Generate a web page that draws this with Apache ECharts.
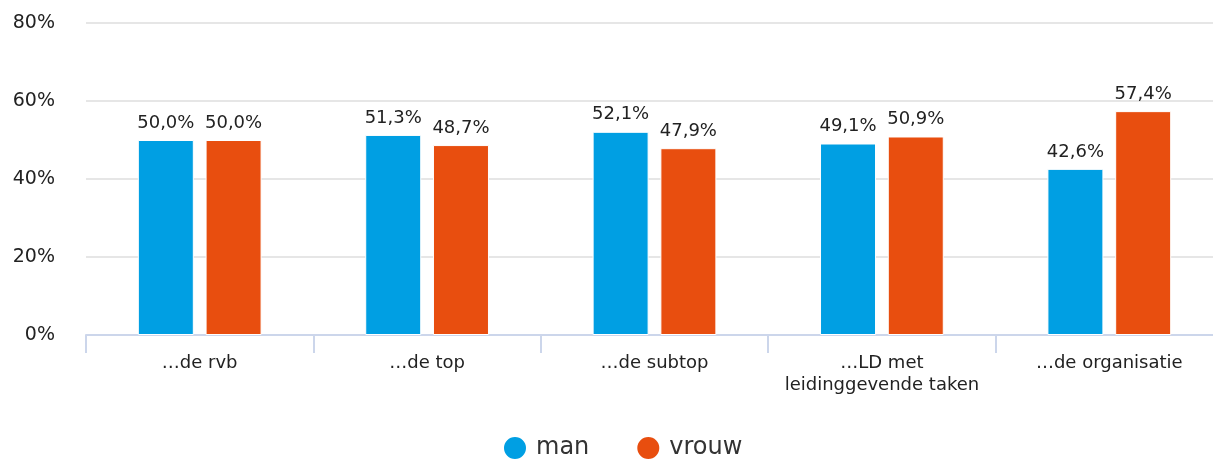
<!DOCTYPE html>
<html lang="nl">
<head>
  <meta charset="UTF-8">
  <title>man / vrouw</title>
  <script src="https://cdn.jsdelivr.net/npm/echarts@6/dist/echarts.min.js"></script>
  <style>
    html, body { margin: 0; padding: 0; background: #fff; }
    #main { width: 1213px; height: 460px; }
  </style>
</head>
<body>
<div id="main"></div>
<script type="text/javascript">
  var categories = ['…de rvb', '…de top', '…de subtop', '…LD met\nleidinggevende taken', '…de organisatie'];
  var manValues = [50.0, 51.3, 52.1, 49.1, 42.6];
  var vrouwValues = [50.0, 48.7, 47.9, 50.9, 57.4];

  var myChart = echarts.init(document.getElementById('main'));
  var font = 'Verdana, "DejaVu Sans", sans-serif';

  function pct(p) {
    return p.value.toFixed(1).replace('.', ',') + '%';
  }

  var option = {
    textStyle: { fontFamily: font },
    animation: false,
    legend: {
      top: 430,
      left: 497,
      icon: 'circle',
      itemWidth: 24,
      itemHeight: 24,
      itemGap: 46,
      textStyle: { fontSize: 24, color: '#333', fontFamily: font, padding: [0, 0, 0, 4] },
      data: ['man', 'vrouw']
    },
    grid: { left: 86, top: 23, width: 1137, height: 312, outerBoundsMode: 'none', containLabel: false },
    xAxis: {
      type: 'category',
      data: categories,
      axisLine: { lineStyle: { color: '#ccd6eb', width: 2 } },
      axisTick: { show: true, length: 18, interval: 0, lineStyle: { color: '#ccd6eb', width: 2 } },
      axisLabel: { interval: 0, fontSize: 18, color: '#222', margin: 17, lineHeight: 22, fontFamily: font }
    },
    yAxis: {
      type: 'value',
      min: 0,
      max: 80,
      interval: 20,
      axisLabel: { formatter: '{value}%', fontSize: 19, color: '#222', margin: 31, fontFamily: font },
      splitLine: { lineStyle: { color: '#e6e6e6', width: 2 } },
      axisLine: { show: false },
      axisTick: { show: false }
    },
    series: [
      {
        name: 'man',
        type: 'bar',
        data: manValues,
        barWidth: 56,
        barGap: '21%',
        itemStyle: { color: '#009fe3', borderColor: '#fff', borderWidth: 1 },
        label: { show: true, position: 'top', distance: 8, fontSize: 18, color: '#222', formatter: pct, fontFamily: font }
      },
      {
        name: 'vrouw',
        type: 'bar',
        data: vrouwValues,
        barWidth: 56,
        itemStyle: { color: '#e84e0f', borderColor: '#fff', borderWidth: 1 },
        label: { show: true, position: 'top', distance: 8, fontSize: 18, color: '#222', formatter: pct, fontFamily: font }
      }
    ]
  };

  option && myChart.setOption(option);
</script>
</body>
</html>
